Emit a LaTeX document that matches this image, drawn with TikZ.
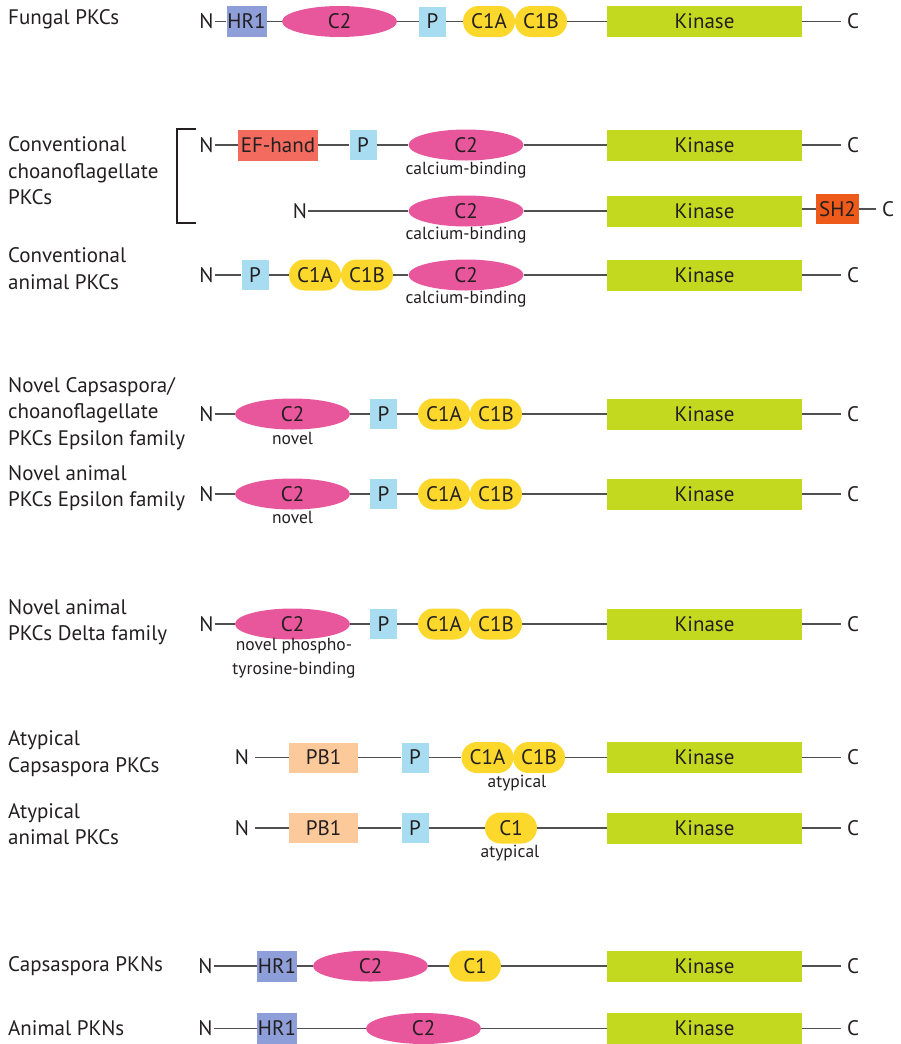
\documentclass[tikz,border=0pt]{standalone}
\usepackage{fontspec}
\setmainfont{PT Sans}
\usepackage{xcolor}
\usetikzlibrary{shapes.geometric, positioning}

\definecolor{txtgray}{HTML}{231F20}
\definecolor{linegray}{HTML}{505052}
\definecolor{hrblue}{HTML}{8E9ED8}
\definecolor{ctpink}{HTML}{E8569C}
\definecolor{pblue}{HTML}{A8DCF0}
\definecolor{cyellow}{HTML}{FCD82C}
\definecolor{kgreen}{HTML}{C3D91F}
\definecolor{efred}{HTML}{F36B5F}
\definecolor{shorange}{HTML}{EE5A1A}
\definecolor{pbpeach}{HTML}{FCC99B}

\begin{document}
\begin{tikzpicture}[
    x=1pt, y=-1pt,
    every node/.style={text=txtgray, font=\fontsize{21}{26.5}\selectfont},
    lbl/.style={anchor=west, align=left, inner sep=0pt},
    note/.style={inner sep=0pt, align=center, font=\fontsize{17.5}{24}\selectfont},
    term/.style={inner sep=1pt},
    cterm/.style={inner xsep=6pt, inner ysep=1pt},
    dom/.style={rectangle, inner sep=0pt, minimum height=31pt},
    hr/.style={dom, fill=hrblue, minimum width=40pt},
    ctwo/.style={ellipse, inner sep=0pt, fill=ctpink, minimum width=115pt, minimum height=31pt},
    pbox/.style={dom, fill=pblue, minimum width=27pt, minimum height=30pt},
    cone/.style={dom, fill=cyellow, minimum width=52pt, rounded corners=15.5pt},
    kin/.style={dom, fill=kgreen, minimum width=195pt},
    efh/.style={dom, fill=efred, minimum width=80pt},
    shtwo/.style={dom, fill=shorange, minimum width=43pt, minimum height=30pt},
    pbone/.style={dom, fill=pbpeach, minimum width=69pt, minimum height=30pt},
    bb/.style={draw=linegray, line width=1.6pt}
]
    \useasboundingbox (0,0) rectangle (900,1044);

    % group labels
    \node[lbl] (lfung) at (8,19) {Fungal PKCs};
    \node[lbl] (lcc) at (8,171) {Conventional\\choanoflagellate\\PKCs};
    \node[lbl] (lca) at (8,268.5) {Conventional\\animal PKCs};
    \node[lbl] (lnce) at (8,413.5) {Novel Capsaspora/\\choanoflagellate\\PKCs Epsilon family};
    \node[lbl] (lnae) at (8,488) {Novel animal\\PKCs Epsilon family};
    \node[lbl] (lnad) at (8,622) {Novel animal\\PKCs Delta family};
    \node[lbl] (lacp) at (8,753.5) {Atypical\\Capsaspora PKCs};
    \node[lbl] (laan) at (8,824) {Atypical\\animal PKCs};
    \node[lbl] (lcpn) at (8,966) {Capsaspora PKNs};
    \node[lbl] (lapn) at (8,1028) {Animal PKNs};

    \draw[draw=txtgray, line width=1.5pt] (196,129) -- (177,129) -- (177,223) -- (196,223);

    % fungal
    \node[term] (fN) at (206.5,21.5) {N};
    \node[hr] (fhr) at (246.5,21.5) {HR1};
    \node[ctwo] (fc2) at (339.5,21.5) {C2};
    \node[pbox] (fp) at (432.5,21.5) {P};
    \node[cone] (fca) at (489,21.5) {C1A};
    \node[cone] (fcb) at (541,21.5) {C1B};
    \node[kin] (fk) at (704.5,21.5) {Kinase};
    \node[cterm] (fC) at (853,21.5) {C};
    \draw[bb] (fN) -- (fhr);
    \draw[bb] (fhr) -- (fc2);
    \draw[bb] (fc2) -- (fp);
    \draw[bb] (fp) -- (fca);
    \draw[bb] (fcb) -- (fk);
    \draw[bb] (fk) -- (fC);

    % conventional choanoflagellate, first form
    \node[term] (caN) at (206.5,145) {N};
    \node[efh] (caef) at (278,145) {EF-hand};
    \node[pbox] (cap) at (363,145) {P};
    \node[ctwo] (cac2) at (466,145) {C2};
    \node[note] (can) at (466,170) {calcium-binding};
    \node[kin] (cak) at (704.5,145) {Kinase};
    \node[cterm] (caC) at (853,145) {C};
    \draw[bb] (caN) -- (caef);
    \draw[bb] (caef) -- (cap);
    \draw[bb] (cap) -- (cac2);
    \draw[bb] (cac2) -- (cak);
    \draw[bb] (cak) -- (caC);

    % conventional choanoflagellate, second form
    \node[term] (cbN) at (300,211) {N};
    \node[ctwo] (cbc2) at (466,211) {C2};
    \node[note] (cbn) at (466,235) {calcium-binding};
    \node[kin] (cbk) at (704.5,211) {Kinase};
    \node[shtwo] (cbsh) at (837.5,209) {SH2};
    \node[cterm] (cbC) at (888,209) {C};
    \draw[bb] (cbN) -- (cbc2);
    \draw[bb] (cbc2) -- (cbk);
    \draw[bb] (cbk.east |- cbsh) -- (cbsh);
    \draw[bb] (cbsh) -- (cbC);

    % conventional animal
    \node[term] (cnN) at (206.5,275) {N};
    \node[pbox] (cnp) at (255,275) {P};
    \node[cone] (cnca) at (315,275) {C1A};
    \node[cone] (cncb) at (367,275) {C1B};
    \node[ctwo] (cnc2) at (466,275) {C2};
    \node[note] (cnn) at (466,299) {calcium-binding};
    \node[kin] (cnk) at (704.5,275) {Kinase};
    \node[cterm] (cnC) at (853,275) {C};
    \draw[bb] (cnN) -- (cnp);
    \draw[bb] (cnp) -- (cnca);
    \draw[bb] (cncb) -- (cnc2);
    \draw[bb] (cnc2) -- (cnk);
    \draw[bb] (cnk) -- (cnC);

    % novel Capsaspora/choanoflagellate epsilon
    \node[term] (neN) at (206.5,414) {N};
    \node[ctwo] (nec2) at (292.5,414) {C2};
    \node[note] (nen) at (292.5,438) {novel};
    \node[pbox] (nep) at (383.5,414) {P};
    \node[cone] (neca) at (444,414) {C1A};
    \node[cone] (necb) at (496,414) {C1B};
    \node[kin] (nek) at (704.5,414) {Kinase};
    \node[cterm] (neC) at (853,414) {C};
    \draw[bb] (neN) -- (nec2);
    \draw[bb] (nec2) -- (nep);
    \draw[bb] (nep) -- (neca);
    \draw[bb] (necb) -- (nek);
    \draw[bb] (nek) -- (neC);

    % novel animal epsilon
    \node[term] (naN) at (206.5,494) {N};
    \node[ctwo] (nac2) at (292.5,494) {C2};
    \node[note] (nan) at (292.5,517) {novel};
    \node[pbox] (nap) at (383.5,494) {P};
    \node[cone] (naca) at (444,494) {C1A};
    \node[cone] (nacb) at (496,494) {C1B};
    \node[kin] (nak) at (704.5,494) {Kinase};
    \node[cterm] (naC) at (853,494) {C};
    \draw[bb] (naN) -- (nac2);
    \draw[bb] (nac2) -- (nap);
    \draw[bb] (nap) -- (naca);
    \draw[bb] (nacb) -- (nak);
    \draw[bb] (nak) -- (naC);

    % novel animal delta
    \node[term] (ndN) at (206.5,624) {N};
    \node[ctwo] (ndc2) at (292.5,624) {C2};
    \node[note] (ndn) at (294,658) {novel phospho-\\tyrosine-binding};
    \node[pbox] (ndp) at (383.5,624) {P};
    \node[cone] (ndca) at (444,624) {C1A};
    \node[cone] (ndcb) at (496,624) {C1B};
    \node[kin] (ndk) at (704.5,624) {Kinase};
    \node[cterm] (ndC) at (853,624) {C};
    \draw[bb] (ndN) -- (ndc2);
    \draw[bb] (ndc2) -- (ndp);
    \draw[bb] (ndp) -- (ndca);
    \draw[bb] (ndcb) -- (ndk);
    \draw[bb] (ndk) -- (ndC);

    % atypical Capsaspora
    \node[term, inner xsep=6pt] (acN) at (242,757.5) {N};
    \node[pbone] (acpb) at (323.5,757.5) {PB1};
    \node[pbox] (acp) at (415,757.5) {P};
    \node[cone] (acca) at (487.5,757.5) {C1A};
    \node[cone] (accb) at (539,757.5) {C1B};
    \node[note] (acn) at (517,783) {atypical};
    \node[kin] (ack) at (704.5,757.5) {Kinase};
    \node[cterm] (acC) at (853,757.5) {C};
    \draw[bb] (acN) -- (acpb);
    \draw[bb] (acpb) -- (acp);
    \draw[bb] (acp) -- (acca);
    \draw[bb] (accb) -- (ack);
    \draw[bb] (ack) -- (acC);

    % atypical animal
    \node[term, inner xsep=6pt] (aaN) at (242,828) {N};
    \node[pbone] (aapb) at (323.5,828) {PB1};
    \node[pbox] (aap) at (415,828) {P};
    \node[cone] (aac) at (511,828) {C1};
    \node[note] (aan) at (510,853) {atypical};
    \node[kin] (aak) at (704.5,828) {Kinase};
    \node[cterm] (aaC) at (853,828) {C};
    \draw[bb] (aaN) -- (aapb);
    \draw[bb] (aapb) -- (aap);
    \draw[bb] (aap) -- (aac);
    \draw[bb] (aac) -- (aak);
    \draw[bb] (aak) -- (aaC);

    % Capsaspora PKNs
    \node[term] (kcN) at (205.5,966) {N};
    \node[hr] (kchr) at (277,966) {HR1};
    \node[ctwo] (kcc2) at (370.5,966) {C2};
    \node[cone] (kcc1) at (475,966) {C1};
    \node[kin] (kck) at (704.5,966) {Kinase};
    \node[cterm] (kcC) at (853,966) {C};
    \draw[bb] (kcN) -- (kchr);
    \draw[bb] (kchr) -- (kcc2);
    \draw[bb] (kcc2) -- (kcc1);
    \draw[bb] (kcc1) -- (kck);
    \draw[bb] (kck) -- (kcC);

    % animal PKNs
    \node[term] (kaN) at (205.5,1028.5) {N};
    \node[hr] (kahr) at (277,1028.5) {HR1};
    \node[ctwo] (kac2) at (423.5,1028.5) {C2};
    \node[kin] (kak) at (704.5,1028.5) {Kinase};
    \node[cterm] (kaC) at (853,1028.5) {C};
    \draw[bb] (kaN) -- (kahr);
    \draw[bb] (kahr) -- (kac2);
    \draw[bb] (kac2) -- (kak);
    \draw[bb] (kak) -- (kaC);
\end{tikzpicture}
\end{document}
